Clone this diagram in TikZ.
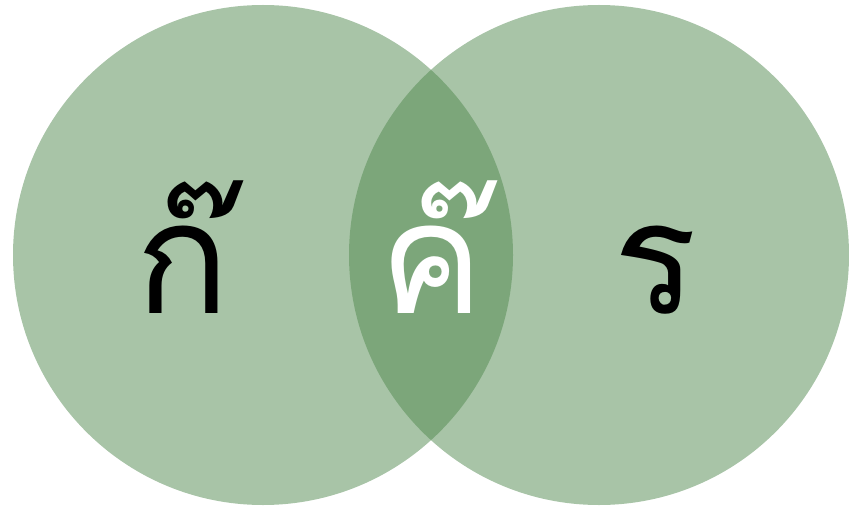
\documentclass[tikz,border=0pt]{standalone}
\usepackage{fontspec}
\newfontfamily\thaifont[Script=Thai]{Loma}
\definecolor{venngreen}{RGB}{81,137,79}

\begin{document}
\begin{tikzpicture}[x=1pt,y=-1pt,
  set/.style={fill=venngreen,fill opacity=0.5},
  glyph/.style={font=\thaifont\fontsize{156}{156}\selectfont,inner sep=0pt,anchor=base}]
  \useasboundingbox (0,0) rectangle (849,508);
  % conjuntos: dos circulos que se cortan
  \fill[set] (263,255) circle(250pt);
  \fill[set] (599,255) circle(250pt);
  % letras
  \node[glyph] (left) at (183,313) {ก๊};
  \node[glyph,white] (both) at (432,313) {ค๊};
  \node[glyph] (right) at (655,313) {ร};
\end{tikzpicture}
\end{document}
